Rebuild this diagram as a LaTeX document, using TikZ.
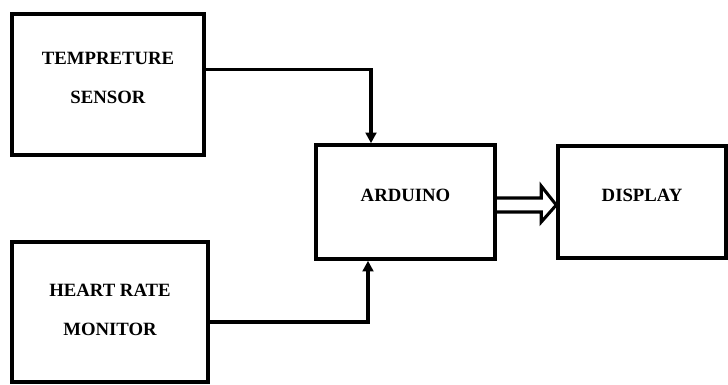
\documentclass[tikz,border=0pt]{standalone}
\usepackage{fontspec}
\setmainfont{Liberation Serif}
\usetikzlibrary{arrows.meta,calc}
\tikzset{
  block/.style={draw, line width=3pt, align=center, inner sep=0pt,
    font=\bfseries\fontsize{16}{33.2}\selectfont, text depth=12pt},
  link/.style={-{Triangle[width=3.2mm,length=3.2mm]}, line width=2.6pt},
  fat/.style={line width=2.6pt, line join=miter}
}
\begin{document}
\begin{tikzpicture}[x=0.03cm,y=-0.03cm]
  \useasboundingbox (0,0) rectangle (728,384);
  \node[block, minimum width=5.76cm, minimum height=4.23cm, text depth=11pt] (temp) at (108,84.5) {TEMPRETURE\\SENSOR};
  \node[block, minimum width=5.88cm, minimum height=4.2cm, text depth=4pt] (heart) at (110,312) {HEART RATE\\MONITOR};
  \node[block, minimum width=5.37cm, minimum height=3.42cm] (ard) at (405.5,202) {ARDUINO};
  \node[block, minimum width=5.04cm, minimum height=3.36cm] (disp) at (642,202) {DISPLAY};
  % sensors into the board
  \draw[link] ($(temp.east)+(0,-15)$) -| ($(ard.north)+(-34.5,0)$);
  \draw[link] ($(heart.east)+(0,10)$) -| ($(ard.south)+(-37.5,0)$);
  % hollow arrow to the display
  \draw[fat] ($(ard.east)+(0,-4)$) -- ($(disp.west)+(-15,-4)$) -- ($(disp.west)+(-15,-16)$)
    -- ($(disp.west)+(0,3)$) -- ($(disp.west)+(-15,20)$) -- ($(disp.west)+(-15,10)$) -- ($(ard.east)+(0,10)$);
\end{tikzpicture}
\end{document}
